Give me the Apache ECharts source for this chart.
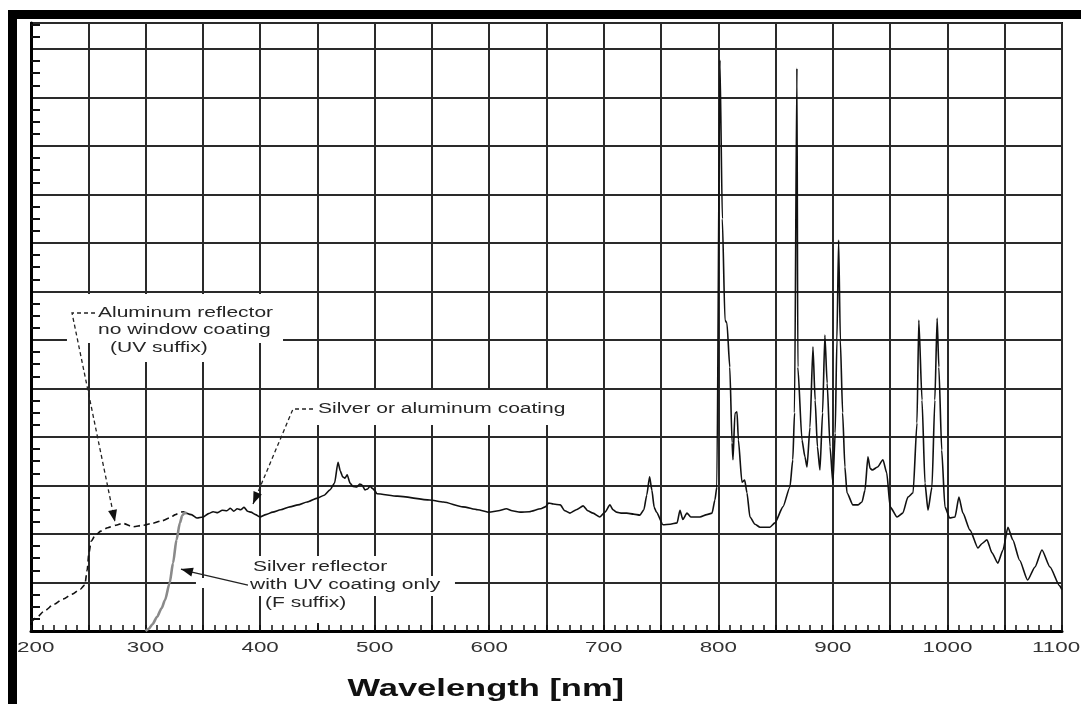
<!DOCTYPE html>
<html>
<head>
<meta charset="utf-8">
<script src="https://cdn.jsdelivr.net/npm/echarts@6/dist/echarts.min.js"></script>
<style>
html,body{margin:0;padding:0;background:#fff;}
#c{width:1081px;height:704px;}
</style>
</head>
<body>
<div id="c"></div>
<script>
// ---------- DATA ----------
const xTickValues = [200, 300, 400, 500, 600, 700, 800, 900, 1000, 1100];
const xTickLabels = ['200', '300', '400', '500', '600', '700', '800', '900', '1000', '1100'];
const xAxisTitle = 'Wavelength [nm]';

// Aluminum reflector, no window coating (UV suffix) - dashed
const alWavelength = [200, 205, 212, 220, 228, 236, 243, 247, 249, 250.5, 252.5, 256, 261, 267, 274, 280, 289, 298, 306, 314, 321, 326, 330, 333, 336];
const alValue      = [0.18, 0.28, 0.42, 0.55, 0.66, 0.76, 0.86, 0.95, 1.25, 1.6, 1.85, 1.97, 2.06, 2.13, 2.18, 2.22, 2.15, 2.18, 2.22, 2.27, 2.33, 2.4, 2.45, 2.46, 2.43];

// Silver reflector with UV coating only (F suffix) - grey
const fWavelength = [300, 303, 306, 310, 314, 317, 321, 324, 327, 330, 332, 334, 336];
const fValue      = [0, 0.05, 0.14, 0.29, 0.47, 0.64, 0.99, 1.4, 1.88, 2.23, 2.38, 2.43, 2.43];

// Silver or aluminum coating - solid black
const mainWavelength = [336, 340, 345, 350, 355, 359, 363, 367, 371, 374, 377, 380, 383, 386, 389, 392, 396, 400, 405, 411, 418, 426, 433, 441, 450, 456, 461, 465, 468, 470, 472, 474, 476, 478.5, 481, 484.5, 487, 489, 491.5, 494, 496, 498, 500, 502, 520, 548, 560, 577, 590, 600, 608, 615, 620, 627, 635, 645, 649, 652, 656, 662, 666, 670.5, 676, 682, 686, 690.6, 696.6, 701, 705.4, 708, 711, 716, 720, 726, 731.6, 735, 737.5, 740, 742, 744, 746, 751.7, 758, 764, 766.5, 769, 772.6, 776, 784, 790, 794.5, 797, 798.7, 801.4, 803.5, 805.8, 807.5, 810, 812, 812.8, 814.5, 816.3, 817.5, 820.6, 823, 825, 827.6, 832, 836.4, 845, 849.4, 856.4, 862.5, 865, 866.5, 868.6, 869.4, 873, 875.6, 877.4, 880, 882.6, 884.5, 886.5, 888.7, 891, 893, 895, 897.5, 900, 902, 903.5, 905, 906.5, 908.5, 910.5, 912.3, 917.5, 922, 925.4, 928, 930.6, 932.5, 934.5, 939, 943.7, 947, 950, 956, 961, 965.5, 970, 973.4, 975, 977.8, 980.4, 983, 986.5, 989, 991, 992.5, 995, 997.8, 1002, 1006.6, 1010, 1013.5, 1019.7, 1026.6, 1030, 1034.5, 1038.9, 1044, 1048.5, 1052.8, 1057, 1063, 1070, 1076.4, 1082.5, 1089.5, 1098, 1100];
const mainValue      = [2.43, 2.40, 2.33, 2.35, 2.42, 2.46, 2.44, 2.49, 2.48, 2.53, 2.47, 2.52, 2.5, 2.55, 2.47, 2.45, 2.4, 2.35, 2.4, 2.45, 2.5, 2.56, 2.6, 2.66, 2.74, 2.8, 2.91, 3.05, 3.48, 3.3, 3.18, 3.15, 3.22, 3.05, 2.98, 2.97, 3.03, 3.01, 2.91, 2.93, 2.99, 2.94, 2.9, 2.83, 2.78, 2.70, 2.66, 2.56, 2.5, 2.45, 2.48, 2.52, 2.48, 2.45, 2.46, 2.52, 2.56, 2.64, 2.62, 2.60, 2.48, 2.43, 2.5, 2.58, 2.48, 2.43, 2.35, 2.45, 2.6, 2.5, 2.45, 2.43, 2.43, 2.41, 2.39, 2.5, 2.8, 3.18, 2.9, 2.55, 2.45, 2.19, 2.2, 2.23, 2.49, 2.3, 2.43, 2.35, 2.35, 2.4, 2.43, 2.7, 2.97, 11.77, 8.5, 6.41, 6.35, 5.44, 3.88, 3.53, 4.49, 4.52, 3.94, 3.07, 3.11, 2.85, 2.35, 2.2, 2.14, 2.14, 2.23, 2.56, 2.97, 3.53, 4.5, 11.6, 5.44, 3.94, 3.59, 3.38, 4.2, 5.86, 4.76, 3.8, 3.32, 4.5, 6.1, 5.11, 3.8, 3.05, 4.08, 6.0, 8.06, 6.0, 4.5, 3.38, 2.85, 2.6, 2.6, 2.66, 2.9, 3.59, 3.35, 3.32, 3.38, 3.53, 3.26, 2.56, 2.35, 2.43, 2.76, 2.85, 4.29, 6.41, 4.76, 3.05, 2.49, 2.97, 4.76, 6.45, 5.44, 3.73, 2.56, 2.33, 2.35, 2.76, 2.43, 2.08, 1.71, 1.8, 1.88, 1.61, 1.40, 1.67, 2.14, 1.88, 1.46, 1.05, 1.32, 1.67, 1.32, 0.93, 0.85];

// Annotation texts
const alText = ['Aluminum reflector', 'no window coating', '(UV suffix)'];
const mainText = ['Silver or aluminum coating'];
const fText = ['Silver reflector', 'with UV coating only', '(F suffix)'];

// ---------- AXIS EXTENT ----------
const X_MIN = 200, X_MAX = 1100, Y_MAX = 12.536;
const yMinorTicks = [];
for (let k = 0; k < 13; k++) { [0.25, 0.5, 0.75].forEach(f => { if (k + f < Y_MAX) yMinorTicks.push(k + f); }); }

function pairs(xs, ys) { return xs.map((x, i) => [x, ys[i]]); }

const chart = echarts.init(document.getElementById('c'), null, { renderer: 'canvas' });
const gridColor = '#2a2a2a';

chart.setOption({
  animation: false,
  backgroundColor: '#ffffff',
  grid: { left: 31, top: 23, right: 19, bottom: 73, show: true, borderColor: '#111', borderWidth: 2, backgroundColor: 'transparent' },
  xAxis: {
    type: 'value', min: X_MIN, max: X_MAX, interval: 50,
    axisLine: { show: true, onZero: false, lineStyle: { color: '#000', width: 3 } },
    axisTick: { show: true, inside: true, length: 6, lineStyle: { color: '#111', width: 1.5 } },
    minorTick: { show: true, splitNumber: 5, length: 6, lineStyle: { color: '#111', width: 1.5 } },
    axisLabel: { show: false },
    splitLine: { show: true, lineStyle: { color: gridColor, width: 2 } }
  },
  yAxis: [
    {
      type: 'value', min: 0, max: Y_MAX, interval: 1,
      axisLine: { show: true, onZero: false, lineStyle: { color: '#000', width: 3 } },
      axisTick: { show: false },
      axisLabel: { show: false },
      splitLine: { show: true, lineStyle: { color: gridColor, width: 2 } }
    },
    {
      type: 'value', min: 0, max: Y_MAX, position: 'left', offset: 0,
      axisLine: { show: false },
      axisTick: { show: true, inside: true, length: 9, customValues: yMinorTicks, lineStyle: { color: '#111', width: 2 } },
      axisLabel: { show: false },
      splitLine: { show: false }
    }
  ],
  series: [
    { name: 'Aluminum reflector (UV suffix)', type: 'line', data: pairs(alWavelength, alValue), symbol: 'none', z: 4,
      smooth: 0.25, smoothMonotone: 'x',
      lineStyle: { color: '#111', width: 1.6, type: [6, 4] } },
    { name: 'Silver reflector (F suffix)', type: 'line', data: pairs(fWavelength, fValue), symbol: 'none', z: 4,
      smooth: 0.25, smoothMonotone: 'x',
      lineStyle: { color: '#8a8a8a', width: 2.6 } },
    { name: 'Silver or aluminum coating', type: 'line', data: pairs(mainWavelength, mainValue), symbol: 'none', z: 5,
      smooth: 0.2, smoothMonotone: 'x',
      lineStyle: { color: '#111', width: 1.6 } }
  ]
});

// ---------- ANNOTATION LAYER (data-space anchors -> pixels) ----------
const P = (nm, v) => chart.convertToPixel({ gridIndex: 0 }, [nm, v]);
const FONT = '14px "Liberation Sans", Arial, sans-serif';
const SX = 1.5;
const g = [];

function box(a, b) {
  const p1 = P(a[0], a[1]), p2 = P(b[0], b[1]);
  g.push({ type: 'rect', z: 10, silent: true,
    shape: { x: Math.min(p1[0], p2[0]), y: Math.min(p1[1], p2[1]), width: Math.abs(p2[0] - p1[0]), height: Math.abs(p2[1] - p1[1]) },
    style: { fill: '#fff' } });
}
function text(str, at, opts) {
  const p = P(at[0], at[1]);
  g.push({ type: 'text', z: 20, silent: true, x: p[0], y: p[1], scaleX: (opts && opts.sx) || SX,
    style: { text: str, font: (opts && opts.font) || FONT, fill: (opts && opts.fill) || '#262626',
      textAlign: (opts && opts.align) || 'left', textVerticalAlign: 'middle' } });
}
function leader(pts, dashed, tip) {
  const px = pts.map(q => P(q[0], q[1]));
  const t = P(tip[0], tip[1]);
  const all = px.concat([t]);
  g.push({ type: 'polyline', z: 20, silent: true, shape: { points: all },
    style: { stroke: '#222', lineWidth: 1.3, fill: null, lineDash: dashed ? [4, 3] : null } });
  const f = all[all.length - 2];
  let dx = t[0] - f[0], dy = t[1] - f[1];
  const L = Math.hypot(dx, dy); dx /= L; dy /= L;
  const len = 12, w = 4.5;
  const bx = t[0] - dx * len, by = t[1] - dy * len;
  g.push({ type: 'polygon', z: 21, silent: true,
    shape: { points: [[t[0], t[1]], [bx - dy * w, by + dx * w], [bx + dy * w, by - dx * w]] },
    style: { fill: '#111' } });
}

// white text backgrounds (break the grid like the reference)
box([231.4, 6.948], [420.0, 5.938]);
box([260.2, 5.938], [360.6, 5.546]);
box([443.5, 4.969], [688.0, 4.247]);
box([386.8, 1.546], [517.7, 1.134]);
box([384.2, 1.134], [570.1, 0.722]);
box([401.6, 0.722], [482.8, 0.165]);
box([344.0, 1.093], [384.2, 0.887]);

// Aluminum annotation
text(alText[0], [258.5, 6.557]);
text(alText[1], [258.5, 6.206]);
text(alText[2], [269.0, 5.835]);
leader([[255.9, 6.557], [235.8, 6.557]], true, [273.3, 2.25]);

// Silver or aluminum coating
text(mainText[0], [450.5, 4.577]);
leader([[446.2, 4.577], [428.7, 4.577]], true, [393.8, 2.62]);

// Silver reflector
text(fText[0], [393.8, 1.320]);
text(fText[1], [391.2, 0.948]);
text(fText[2], [404.3, 0.577]);
leader([[389.4, 0.948], [340.5, 1.216]], false, [330.9, 1.278]);

// x tick labels (horizontally stretched like the reference)
const leftEdge = 17, rightEdge = 1081;
xTickValues.forEach((v, i) => {
  const p = P(v, 0);
  const half = xTickLabels[i].length * 0.556 * 14 * 1.6 / 2;
  let cx = p[0];
  if (cx - half < leftEdge) cx = leftEdge + half;
  if (cx + half > rightEdge) cx = rightEdge - half;
  g.push({ type: 'text', z: 20, silent: true, x: cx, y: p[1] + 17, scaleX: 1.6,
    style: { text: xTickLabels[i], font: FONT, fill: '#333', textAlign: 'center', textVerticalAlign: 'middle' } });
});

// axis title
const tp = P(597, 0);
g.push({ type: 'text', z: 20, silent: true, x: tp[0], y: tp[1] + 59, scaleX: 1.5,
  style: { text: xAxisTitle, font: 'bold 23px "Liberation Sans", Arial, sans-serif', fill: '#111', textAlign: 'center', textVerticalAlign: 'middle' } });

// black scan frame (top and left)
g.push({ type: 'rect', z: 30, silent: true, shape: { x: 8, y: 10, width: 1073, height: 9 }, style: { fill: '#000' } });
g.push({ type: 'rect', z: 30, silent: true, shape: { x: 8, y: 10, width: 9, height: 694 }, style: { fill: '#000' } });

chart.setOption({ graphic: g });
</script>
</body>
</html>
